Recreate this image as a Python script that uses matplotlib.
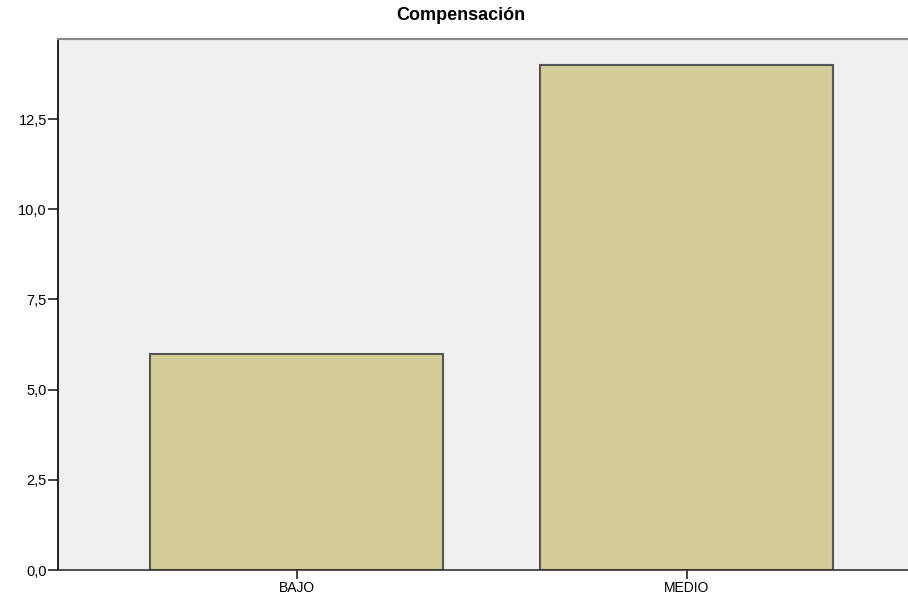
import matplotlib
matplotlib.use("Agg")
import matplotlib.pyplot as plt

categories = ["BAJO", "MEDIO"]
values = [6, 14]
yticks = [0.0, 2.5, 5.0, 7.5, 10.0, 12.5]
ytick_labels = ["0,0", "2,5", "5,0", "7,5", "10,0", "12,5"]

fig = plt.figure(figsize=(9.08, 5.96), dpi=100)
ax = fig.add_axes([58/908, 26/596, 1 - 58/908, (570-39)/596])
ax.set_facecolor("#f0f0f0")
x = list(range(len(categories)))
ax.bar(x, values, width=0.751, color="#d3ce97", edgecolor="#555555", linewidth=1.5)
ax.set_xlim(-0.612, 1.567)
ax.set_ylim(0, 14.72)
ax.set_xticks(x)
ax.set_xticklabels(categories, fontsize=10, family="Liberation Sans")
ax.set_yticks(yticks)
ax.set_yticklabels(ytick_labels, fontsize=10.5, family="Liberation Sans")
ax.tick_params(axis="y", length=7.5, width=1.2, pad=0.5, color="#222222")
ax.tick_params(axis="x", length=6.5, width=1.2, pad=1.5, color="#222222")
ax.spines["left"].set_color("#111111")
ax.spines["left"].set_linewidth(1.3)
ax.spines["bottom"].set_color("#333333")
ax.spines["bottom"].set_linewidth(1.2)
ax.spines["top"].set_color("#888888")
ax.spines["top"].set_linewidth(1.5)
ax.spines["right"].set_visible(False)
fig.text(0.507, 1 - 16/596, "Compensación", ha="center", va="center",
         fontsize=13, fontweight="bold", family="Liberation Sans")
fig.savefig("out.png", dpi=100)
